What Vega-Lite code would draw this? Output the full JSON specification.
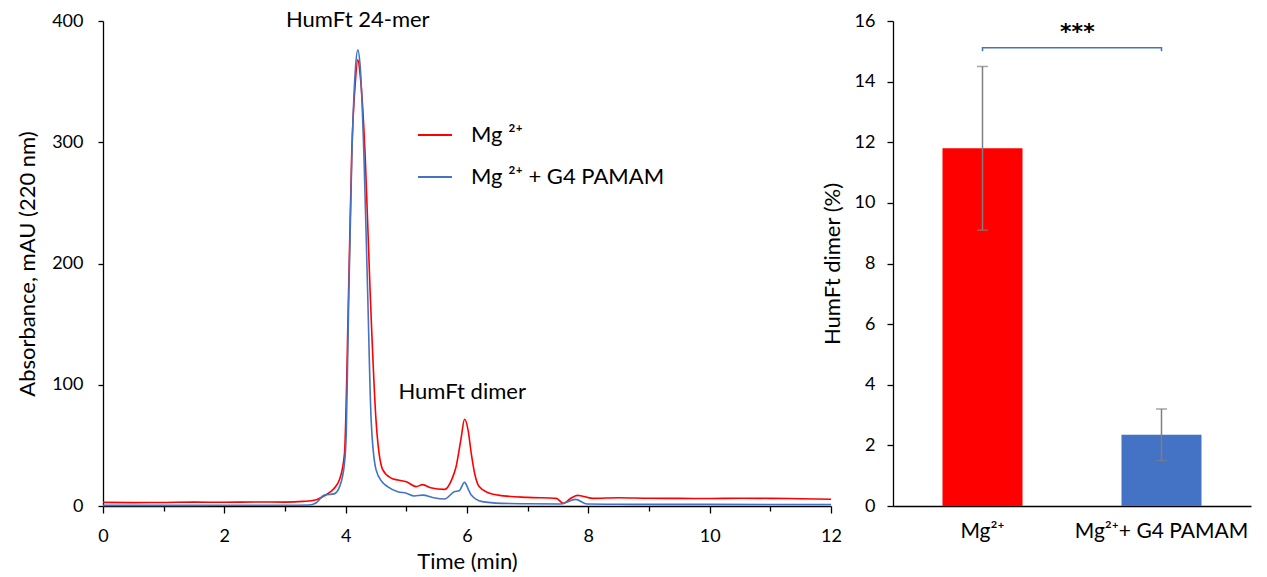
{
  "$schema": "https://vega.github.io/schema/vega-lite/v6.json",
  "background": "white",
  "padding": {"left": 16, "top": 8, "right": 5, "bottom": 5},
  "bounds": "flush",
  "spacing": 62,
  "resolve": {"scale": {"color": "independent"}, "legend": {"color": "independent"}},
  "config": {
    "font": "Lato",
    "view": {"stroke": null},
    "axis": {"labelFont": "Lato", "titleFont": "Lato", "labelColor": "#000", "titleColor": "#000", "domainColor": "#000", "tickColor": "#000", "grid": false, "labelFontSize": 18, "titleFontSize": 22, "titleFontWeight": "normal", "domainWidth": 1.3, "tickWidth": 1.3}
  },
  "datasets": {
    "chrom": [
      {"t": 0, "a": 3.0, "s": "Mg ²⁺"}, {"t": 0.5, "a": 2.8, "s": "Mg ²⁺"}, {"t": 1.0, "a": 2.9, "s": "Mg ²⁺"}, {"t": 1.5, "a": 3.2, "s": "Mg ²⁺"}, {"t": 2.0, "a": 3.1, "s": "Mg ²⁺"}, {"t": 2.5, "a": 3.3, "s": "Mg ²⁺"}, {"t": 3.0, "a": 3.2, "s": "Mg ²⁺"}, {"t": 3.3, "a": 3.8, "s": "Mg ²⁺"}, {"t": 3.5, "a": 4.9, "s": "Mg ²⁺"}, {"t": 3.65, "a": 8.5, "s": "Mg ²⁺"}, {"t": 3.8, "a": 14, "s": "Mg ²⁺"}, {"t": 3.9, "a": 22, "s": "Mg ²⁺"}, {"t": 3.98, "a": 43, "s": "Mg ²⁺"}, {"t": 4.05, "a": 181, "s": "Mg ²⁺"}, {"t": 4.10, "a": 291, "s": "Mg ²⁺"}, {"t": 4.16, "a": 350, "s": "Mg ²⁺"}, {"t": 4.20, "a": 368, "s": "Mg ²⁺"}, {"t": 4.24, "a": 355, "s": "Mg ²⁺"}, {"t": 4.32, "a": 291, "s": "Mg ²⁺"}, {"t": 4.40, "a": 181, "s": "Mg ²⁺"}, {"t": 4.50, "a": 71, "s": "Mg ²⁺"}, {"t": 4.61, "a": 30, "s": "Mg ²⁺"}, {"t": 4.75, "a": 23, "s": "Mg ²⁺"}, {"t": 4.86, "a": 21.4, "s": "Mg ²⁺"}, {"t": 5.0, "a": 20, "s": "Mg ²⁺"}, {"t": 5.16, "a": 16, "s": "Mg ²⁺"}, {"t": 5.27, "a": 17.6, "s": "Mg ²⁺"}, {"t": 5.4, "a": 15, "s": "Mg ²⁺"}, {"t": 5.63, "a": 13.7, "s": "Mg ²⁺"}, {"t": 5.75, "a": 22, "s": "Mg ²⁺"}, {"t": 5.82, "a": 32.4, "s": "Mg ²⁺"}, {"t": 5.9, "a": 55, "s": "Mg ²⁺"}, {"t": 5.96, "a": 71.5, "s": "Mg ²⁺"}, {"t": 6.02, "a": 62, "s": "Mg ²⁺"}, {"t": 6.07, "a": 43.4, "s": "Mg ²⁺"}, {"t": 6.13, "a": 26, "s": "Mg ²⁺"}, {"t": 6.20, "a": 16, "s": "Mg ²⁺"}, {"t": 6.35, "a": 11, "s": "Mg ²⁺"}, {"t": 6.51, "a": 9, "s": "Mg ²⁺"}, {"t": 7.0, "a": 7.1, "s": "Mg ²⁺"}, {"t": 7.47, "a": 6.3, "s": "Mg ²⁺"}, {"t": 7.59, "a": 2.2, "s": "Mg ²⁺"}, {"t": 7.7, "a": 6, "s": "Mg ²⁺"}, {"t": 7.82, "a": 8.8, "s": "Mg ²⁺"}, {"t": 8.07, "a": 6.3, "s": "Mg ²⁺"}, {"t": 8.5, "a": 6.8, "s": "Mg ²⁺"}, {"t": 9.0, "a": 6.4, "s": "Mg ²⁺"}, {"t": 9.5, "a": 6.3, "s": "Mg ²⁺"}, {"t": 10.0, "a": 6.2, "s": "Mg ²⁺"}, {"t": 10.5, "a": 6.4, "s": "Mg ²⁺"}, {"t": 11.0, "a": 6.3, "s": "Mg ²⁺"}, {"t": 11.5, "a": 6.0, "s": "Mg ²⁺"}, {"t": 12.0, "a": 5.6, "s": "Mg ²⁺"},
      {"t": 0, "a": 0.5, "s": "Mg ²⁺ + G4 PAMAM"}, {"t": 1, "a": 0.5, "s": "Mg ²⁺ + G4 PAMAM"}, {"t": 2, "a": 0.6, "s": "Mg ²⁺ + G4 PAMAM"}, {"t": 3, "a": 0.6, "s": "Mg ²⁺ + G4 PAMAM"}, {"t": 3.4, "a": 0.8, "s": "Mg ²⁺ + G4 PAMAM"}, {"t": 3.51, "a": 2.5, "s": "Mg ²⁺ + G4 PAMAM"}, {"t": 3.65, "a": 9, "s": "Mg ²⁺ + G4 PAMAM"}, {"t": 3.81, "a": 10, "s": "Mg ²⁺ + G4 PAMAM"}, {"t": 3.9, "a": 16, "s": "Mg ²⁺ + G4 PAMAM"}, {"t": 3.98, "a": 35, "s": "Mg ²⁺ + G4 PAMAM"}, {"t": 4.01, "a": 60, "s": "Mg ²⁺ + G4 PAMAM"}, {"t": 4.05, "a": 170, "s": "Mg ²⁺ + G4 PAMAM"}, {"t": 4.10, "a": 285, "s": "Mg ²⁺ + G4 PAMAM"}, {"t": 4.16, "a": 360, "s": "Mg ²⁺ + G4 PAMAM"}, {"t": 4.20, "a": 376, "s": "Mg ²⁺ + G4 PAMAM"}, {"t": 4.24, "a": 362, "s": "Mg ²⁺ + G4 PAMAM"}, {"t": 4.30, "a": 291, "s": "Mg ²⁺ + G4 PAMAM"}, {"t": 4.36, "a": 181, "s": "Mg ²⁺ + G4 PAMAM"}, {"t": 4.42, "a": 71, "s": "Mg ²⁺ + G4 PAMAM"}, {"t": 4.50, "a": 30, "s": "Mg ²⁺ + G4 PAMAM"}, {"t": 4.60, "a": 20, "s": "Mg ²⁺ + G4 PAMAM"}, {"t": 4.69, "a": 16, "s": "Mg ²⁺ + G4 PAMAM"}, {"t": 4.86, "a": 11.8, "s": "Mg ²⁺ + G4 PAMAM"}, {"t": 5.0, "a": 10.5, "s": "Mg ²⁺ + G4 PAMAM"}, {"t": 5.13, "a": 8.2, "s": "Mg ²⁺ + G4 PAMAM"}, {"t": 5.27, "a": 9, "s": "Mg ²⁺ + G4 PAMAM"}, {"t": 5.45, "a": 6.8, "s": "Mg ²⁺ + G4 PAMAM"}, {"t": 5.63, "a": 5.8, "s": "Mg ²⁺ + G4 PAMAM"}, {"t": 5.79, "a": 11.8, "s": "Mg ²⁺ + G4 PAMAM"}, {"t": 5.87, "a": 12.6, "s": "Mg ²⁺ + G4 PAMAM"}, {"t": 5.96, "a": 19.5, "s": "Mg ²⁺ + G4 PAMAM"}, {"t": 6.02, "a": 14, "s": "Mg ²⁺ + G4 PAMAM"}, {"t": 6.07, "a": 9, "s": "Mg ²⁺ + G4 PAMAM"}, {"t": 6.25, "a": 3.6, "s": "Mg ²⁺ + G4 PAMAM"}, {"t": 6.57, "a": 2.2, "s": "Mg ²⁺ + G4 PAMAM"}, {"t": 7.0, "a": 1.8, "s": "Mg ²⁺ + G4 PAMAM"}, {"t": 7.54, "a": 1.6, "s": "Mg ²⁺ + G4 PAMAM"}, {"t": 7.79, "a": 5.5, "s": "Mg ²⁺ + G4 PAMAM"}, {"t": 7.98, "a": 1.6, "s": "Mg ²⁺ + G4 PAMAM"}, {"t": 8.5, "a": 1.4, "s": "Mg ²⁺ + G4 PAMAM"}, {"t": 10, "a": 1.3, "s": "Mg ²⁺ + G4 PAMAM"}, {"t": 12, "a": 1.2, "s": "Mg ²⁺ + G4 PAMAM"}
    ],
    "peaks": [
      {"t": 4.2, "a": 401, "label": "HumFt 24-mer"},
      {"t": 5.92, "a": 94, "label": "HumFt dimer"}
    ],
    "bars": [
      {"cond": "Mg²⁺", "val": 11.8, "lo": 9.1, "hi": 14.5},
      {"cond": "Mg²⁺+ G4 PAMAM", "val": 2.35, "lo": 1.5, "hi": 3.2}
    ],
    "bracket": [
      {"cond": "Mg²⁺", "by": 15.0, "o": 1},
      {"cond": "Mg²⁺", "by": 15.12, "o": 2},
      {"cond": "Mg²⁺+ G4 PAMAM", "by": 15.12, "o": 3},
      {"cond": "Mg²⁺+ G4 PAMAM", "by": 15.0, "o": 4}
    ],
    "sig": [{"xp": 1.03, "y": 15.65, "label": "***"}]
  },
  "hconcat": [
    {
      "width": 728,
      "height": 485,
      "layer": [
        {
          "data": {"name": "chrom"},
          "mark": {"type": "line", "strokeWidth": 1.6, "interpolate": "monotone"},
          "encoding": {
            "x": {"field": "t", "type": "quantitative", "scale": {"domain": [0, 12], "nice": false},
              "axis": {"title": "Time (min)", "values": [0, 0.5, 1, 1.5, 2, 2.5, 3, 3.5, 4, 4.5, 5, 5.5, 6, 6.5, 7, 7.5, 8, 8.5, 9, 9.5, 10, 10.5, 11, 11.5, 12],
                "labelExpr": "datum.value % 2 == 0 ? format(datum.value, 'd') : ''",
                "tickSize": {"condition": {"test": "datum.value % 2 == 0", "value": 7}, "value": 5},
                "labelPadding": 14, "titlePadding": 6, "labelFlush": false}},
            "y": {"field": "a", "type": "quantitative", "scale": {"domain": [0, 400], "nice": false},
              "axis": {"title": "Absorbance, mAU (220 nm)", "values": [0, 100, 200, 300, 400], "tickSize": 5, "labelPadding": 15, "titlePadding": 12}},
            "color": {"field": "s", "type": "nominal", "sort": null,
              "scale": {"domain": ["Mg ²⁺", "Mg ²⁺ + G4 PAMAM"], "range": ["#ff0000", "#4472c4"]},
              "legend": {"title": null, "orient": "none", "legendX": 314, "legendY": 96, "symbolType": "stroke", "symbolSize": 1156, "symbolStrokeWidth": 2, "labelFont": "Lato", "labelFontSize": 22, "labelColor": "#000", "labelOffset": 18, "rowPadding": 13, "labelLimit": 400}}
          }
        },
        {
          "data": {"name": "peaks"},
          "mark": {"type": "text", "font": "Lato", "fontSize": 22, "color": "#000", "baseline": "middle", "align": "center"},
          "encoding": {
            "x": {"field": "t", "type": "quantitative"},
            "y": {"field": "a", "type": "quantitative"},
            "text": {"field": "label"}
          }
        }
      ]
    },
    {
      "width": 358,
      "height": 485,
      "layer": [
        {
          "layer": [
            {
              "data": {"name": "bars"},
              "mark": {"type": "bar"},
              "encoding": {
                "x": {"field": "cond", "type": "nominal", "sort": null, "scale": {"paddingInner": 0.553, "paddingOuter": 0.2765},
                  "axis": {"title": null, "labelAngle": 0, "ticks": false, "labelFontSize": 21, "labelPadding": 14}},
                "y": {"field": "val", "type": "quantitative", "scale": {"domain": [0, 16], "nice": false},
                  "axis": {"title": "HumFt dimer (%)", "values": [0, 2, 4, 6, 8, 10, 12, 14, 16], "tickSize": 6, "labelPadding": 12, "titlePadding": 10}},
                "color": {"field": "cond", "type": "nominal", "sort": null, "scale": {"domain": ["Mg²⁺", "Mg²⁺+ G4 PAMAM"], "range": ["#ff0000", "#4472c4"]}, "legend": null}
              }
            },
            {
              "data": {"name": "bars"},
              "mark": {"type": "rule", "color": "#7f7f7f", "strokeWidth": 1.5},
              "encoding": {
                "x": {"field": "cond", "type": "nominal", "sort": null},
                "y": {"field": "lo", "type": "quantitative"},
                "y2": {"field": "hi"}
              }
            },
            {
              "data": {"name": "bars"},
              "mark": {"type": "tick", "color": "#7f7f7f", "size": 11, "thickness": 1.5},
              "encoding": {
                "x": {"field": "cond", "type": "nominal", "sort": null},
                "y": {"field": "hi", "type": "quantitative"}
              }
            },
            {
              "data": {"name": "bars"},
              "mark": {"type": "tick", "color": "#7f7f7f", "size": 11, "thickness": 1.5},
              "encoding": {
                "x": {"field": "cond", "type": "nominal", "sort": null},
                "y": {"field": "lo", "type": "quantitative"}
              }
            },
            {
              "data": {"name": "bracket"},
              "mark": {"type": "line", "color": "#4472c4", "strokeWidth": 1.5},
              "encoding": {
                "x": {"field": "cond", "type": "nominal", "sort": null},
                "y": {"field": "by", "type": "quantitative"},
                "order": {"field": "o", "type": "quantitative"}
              }
            }
          ]
        },
        {
          "data": {"name": "sig"},
          "mark": {"type": "text", "font": "DejaVu Sans", "fontSize": 22, "fontWeight": "bold", "color": "#000", "baseline": "middle", "align": "center"},
          "encoding": {
            "x": {"field": "xp", "type": "quantitative", "scale": {"domain": [0, 2], "nice": false}, "axis": null},
            "y": {"field": "y", "type": "quantitative"},
            "text": {"field": "label"}
          }
        }
      ],
      "resolve": {"scale": {"x": "independent"}}
    }
  ]
}
